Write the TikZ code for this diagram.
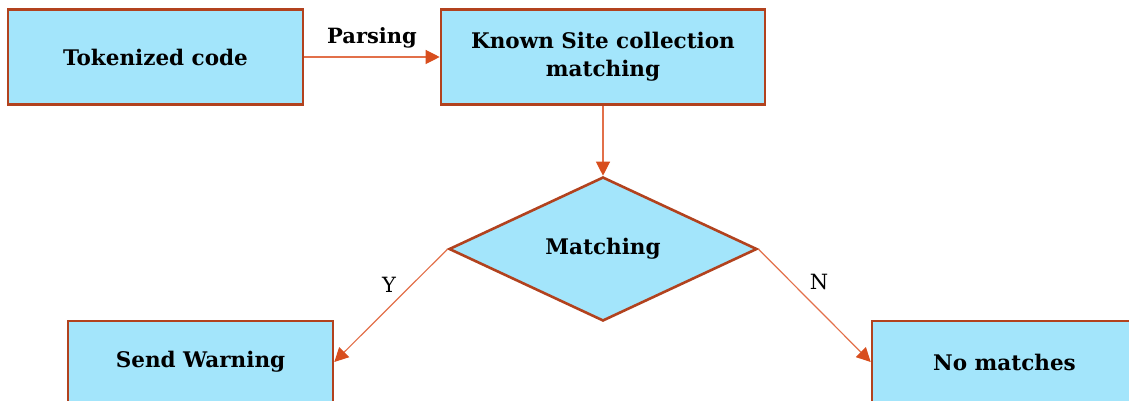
\documentclass[tikz,border=0pt]{standalone}
\usepackage{fontspec}
\setmainfont{DejaVu Serif}
\usetikzlibrary{arrows.meta,shapes.geometric,positioning}

\definecolor{boxfill}{RGB}{163,229,251}
\definecolor{boxline}{RGB}{178,66,30}
\definecolor{flowline}{RGB}{226,112,74}
\definecolor{flowtip}{RGB}{216,78,30}

\tikzset{
  procbox/.style={draw=boxline,fill=boxfill,line width=2.6pt,inner sep=0pt,
    align=center,font=\bfseries\fontsize{21.5}{28}\selectfont},
  decbox/.style={diamond,draw=boxline,fill=boxfill,line width=2.6pt,inner sep=0pt,
    minimum width=308pt,minimum height=144pt,font=\bfseries\fontsize{21.5}{28}\selectfont},
  flow/.style={draw=flowline,line width=1.2pt,
    -{Triangle[length=14pt,width=14pt,color=flowtip]}},
  flowlabel/.style={font=\fontsize{21}{24}\selectfont}
}

\begin{document}
\begin{tikzpicture}[x=1pt,y=-1pt]
  \path[use as bounding box] (0,0) rectangle (1129,401);
  \clip (0,0) rectangle (1129,401);
  % boxes
  \node[procbox,minimum width=295pt,minimum height=95pt] (tokens) at (155.5,57) {Tokenized code};
  \node[procbox,minimum width=324pt,minimum height=95pt] (known) at (603,57) {Known Site collection\\matching};
  \node[decbox] (match) at (603,249) {Matching};
  \node[procbox,minimum width=265pt,minimum height=82pt] (warn) at (200.5,362) {Send Warning};
  \node[procbox,minimum width=265pt,minimum height=82pt] (nomatch) at (1004.5,362) {No matches};
  % connectors
  \draw[flow] (tokens.east) -- node[above=5pt,font=\bfseries\fontsize{21}{24}\selectfont] {Parsing} (known.west);
  \draw[flow] (known.south) -- (match.north);
  \draw[flow] (match.west) -- (warn.east);
  \draw[flow] (match.east) -- (nomatch.west);
  \node[flowlabel] (ylabel) at (389,285) {Y};
  \node[flowlabel] (nlabel) at (819,282) {N};
\end{tikzpicture}
\end{document}
